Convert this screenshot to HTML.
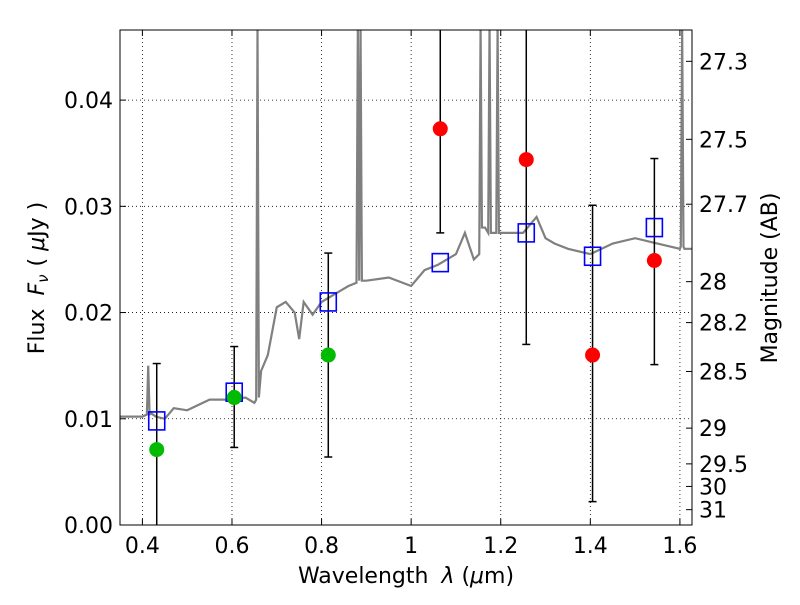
<!DOCTYPE html>
<html><head><meta charset="utf-8"><style>
body{margin:0;background:#fff;}
svg text{font-family:"DejaVu Sans","Liberation Sans",sans-serif;}
</style></head><body>
<svg id="c" width="800" height="600" xmlns="http://www.w3.org/2000/svg"></svg>
<script>
const specX=[0.35,0.40,0.41,0.413,0.416,0.42,0.43,0.45,0.47,0.50,0.55,0.60,0.63,0.65,0.654,0.657,0.66,0.665,0.68,0.70,0.72,0.74,0.75,0.76,0.78,0.80,0.82,0.84,0.86,0.878,0.881,0.884,0.887,0.89,0.893,0.90,0.95,1.0,1.03,1.06,1.10,1.12,1.14,1.152,1.155,1.158,1.165,1.172,1.175,1.178,1.19,1.193,1.196,1.20,1.25,1.28,1.30,1.32,1.35,1.40,1.45,1.50,1.55,1.60,1.602,1.605,1.608,1.61,1.627];
const specY=[0.0102,0.0102,0.0104,0.0150,0.0104,0.0105,0.0102,0.0100,0.0110,0.0108,0.0118,0.0118,0.0120,0.0115,0.0118,0.047,0.0120,0.0145,0.0160,0.0205,0.0210,0.0200,0.0175,0.0210,0.0198,0.0210,0.0215,0.0220,0.0225,0.0228,0.047,0.0230,0.047,0.0230,0.0230,0.0230,0.0233,0.0225,0.0240,0.0245,0.0255,0.0275,0.0250,0.0255,0.047,0.0280,0.0280,0.0275,0.047,0.0275,0.0275,0.047,0.0275,0.0275,0.0275,0.0290,0.0270,0.0265,0.0260,0.0255,0.0265,0.0270,0.0265,0.0260,0.0262,0.047,0.0262,0.0260,0.0260];
const obsX=[0.432,0.605,0.815,1.065,1.257,1.405,1.543];
const obsY=[0.0071,0.0120,0.0160,0.0373,0.0344,0.0160,0.0249];
const errHi=[0.0152,0.0168,0.0256,0.050,0.050,0.0301,0.0345];
const errLo=[-0.001,0.0073,0.0064,0.0275,0.0170,0.0022,0.0151];
const obsColor=["#00bb00","#00bb00","#00bb00","red","red","red","red"];
const modelY=[0.0098,0.0125,0.0210,0.0247,0.0275,0.0253,0.0280];
const xTicks=[0.4,0.6,0.8,1,1.2,1.4,1.6];
const xTickLabels=["0.4","0.6","0.8","1","1.2","1.4","1.6"];
const yTicks=[0,0.01,0.02,0.03,0.04];
const yTickLabels=["0.00","0.01","0.02","0.03","0.04"];
const magTicks=[27.3,27.5,27.7,28,28.2,28.5,29,29.5,30,31];

const L=120,R=692,T=30,B=525,x0=0.35,x1=1.627,y0=0,y1=0.0466;
const sx=v=>L+(v-x0)/(x1-x0)*(R-L);
const sy=v=>B-(v-y0)/(y1-y0)*(B-T);
const svg=document.getElementById('c');
const NS="http://www.w3.org/2000/svg";
function mk(tag,attrs,parent){const e=document.createElementNS(NS,tag);for(const k in attrs)e.setAttribute(k,attrs[k]);(parent||svg).appendChild(e);return e;}
const defs=mk('defs',{});const cp=mk('clipPath',{id:'clip'},defs);mk('rect',{x:L,y:T,width:R-L,height:B-T},cp);

xTicks.forEach((t,i)=>{const x=sx(t);
 const g=mk('line',{x1:x,x2:x,y1:T,y2:B,stroke:'#000','stroke-dasharray':'1,3','stroke-width':0.8});
 
 mk('line',{x1:x,x2:x,y1:B,y2:B-6,stroke:'#000'});mk('line',{x1:x,x2:x,y1:T,y2:T+6,stroke:'#000'});
 const tx=mk('text',{x:x,y:B+28,'text-anchor':'middle','font-size':22});tx.textContent=xTickLabels[i];
 });
yTicks.forEach((t,i)=>{const y=sy(t);
 const g=mk('line',{x1:L,x2:R,y1:y,y2:y,stroke:'#000','stroke-dasharray':'1,3','stroke-width':0.8});
 
 mk('line',{x1:L,x2:L+6,y1:y,y2:y,stroke:'#000'});
 const tx=mk('text',{x:L-7,y:y+8,'text-anchor':'end','font-size':22});tx.textContent=yTickLabels[i];
 });
magTicks.forEach(m=>{const y=sy(Math.pow(10,(23.9-m)/2.5));
 mk('line',{x1:R,x2:R-6,y1:y,y2:y,stroke:'#000'});
 const tx=mk('text',{x:R+7,y:y+8,'font-size':22});tx.textContent=String(m);
 });

const gp=mk('g',{'clip-path':'url(#clip)'});
const sp=mk('polyline',{points:specX.map((v,i)=>sx(v)+','+sy(specY[i])).join(' '),fill:'none',stroke:'#808080','stroke-width':2.2},gp);

obsX.forEach((v,i)=>{const x=sx(v);
 const e=mk('line',{x1:x,x2:x,y1:sy(errHi[i]),y2:sy(errLo[i]),stroke:'#000','stroke-width':1.5},gp);
 
 [errHi[i],errLo[i]].forEach(q=>mk('line',{x1:x-4,x2:x+4,y1:sy(q),y2:sy(q),stroke:'#000','stroke-width':1.5},gp));
 const s=mk('rect',{x:x-8,y:sy(modelY[i])-9,width:16,height:18,fill:'none',stroke:'blue','stroke-width':1.6},gp);
 
 const c=mk('circle',{cx:x,cy:sy(obsY[i]),r:7.5,fill:obsColor[i]},gp);
 });
const fr=mk('rect',{x:L,y:T,width:R-L,height:B-T,fill:'none',stroke:'#000','stroke-width':1});

</script>
<svg width="800" height="600" style="position:absolute;left:0;top:0" xmlns="http://www.w3.org/2000/svg">
<text x="406" y="583" text-anchor="middle" font-size="22" font-family="DejaVu Sans,sans-serif">Wavelength <tspan dx="6" font-style="italic">λ</tspan> (<tspan font-style="italic">μ</tspan>m)</text>
<text transform="translate(44,278) rotate(-90)" text-anchor="middle" font-size="22" font-family="DejaVu Sans,sans-serif">Flux <tspan dx="6" font-style="italic">F</tspan><tspan font-style="italic" font-size="15" dy="4">ν</tspan><tspan dy="-4" dx="8">( </tspan><tspan font-style="italic">μ</tspan>Jy )</text>
<text transform="translate(777,278) rotate(-90)" text-anchor="middle" font-size="22" font-family="DejaVu Sans,sans-serif">Magnitude (AB)</text>
</svg>
</body></html>
